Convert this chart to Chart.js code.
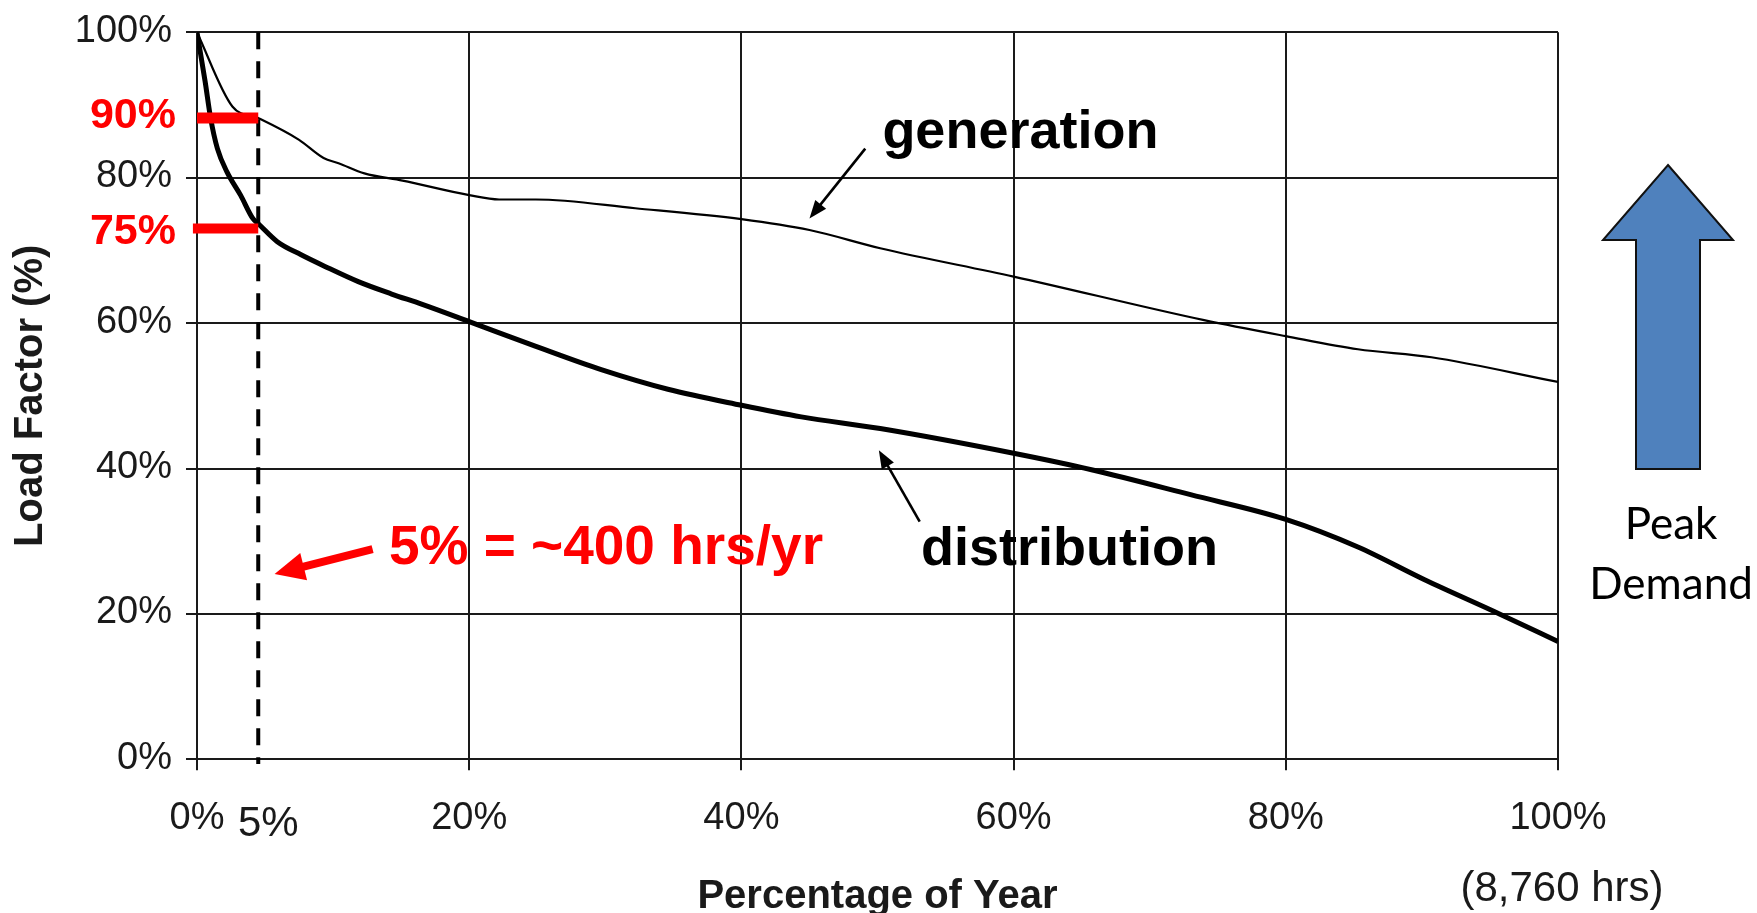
<!DOCTYPE html>
<html><head><meta charset="utf-8">
<script src="https://cdn.jsdelivr.net/npm/chart.js@4.4.1/dist/chart.umd.min.js"></script>
<style>html,body{margin:0;padding:0;background:#fff;overflow:hidden}canvas{display:block}</style>
</head><body>
<canvas id="c" width="1757" height="913"></canvas>
<script>
// ---------------- data ----------------
const xTickValues = [0, 20, 40, 60, 80, 100];
const yTickValues = [0, 20, 40, 60, 80, 100];
const generationX = [0, 2.6, 4.5, 7.5, 9.3, 10.4, 12.3, 15.1, 20, 22.2, 24.9, 32.2, 40, 45, 50.2, 60, 74, 80, 85.3, 90.7, 100];
const generationY = [100, 89.8, 88.2, 85.2, 82.7, 82.0, 80.6, 79.6, 77.6, 77.0, 77.0, 75.8, 74.3, 72.8, 70.3, 66.4, 60.4, 58.2, 56.4, 55.3, 51.9];
const distributionX = [0, 0.6, 1.0, 1.5, 2.2, 3.2, 4.1, 4.6, 5.9, 7.65, 9.4, 11.85, 14.3, 16.5, 20, 24.9, 29.7, 34.6, 40, 44.4, 50.2, 60, 65.8, 73, 80, 85.3, 90.2, 95.7, 100];
const distributionY = [100, 93.2, 88.2, 84.0, 80.8, 77.6, 74.4, 73.5, 71.2, 69.4, 67.8, 65.7, 64.0, 62.6, 60.2, 56.8, 53.6, 50.9, 48.7, 47.1, 45.5, 42.1, 39.8, 36.4, 33.0, 29.2, 24.7, 20.0, 16.2];
const markerX = 4.5;                 // "5%" of year, dashed line as drawn
const markerLevels = [88.2, 73.0];   // red bars, as drawn
const markerLabels = ['90%', '75%'];
const markerLabelLevels = [88.4, 72.5];
const seriesNames = ['generation', 'distribution'];
const hoursText = '5% = ~400 hrs/yr';
const markerTickLabel = '5%';
const yearHoursText = '(8,760 hrs)';
const peakText = ['Peak', 'Demand'];
const xTitle = 'Percentage of Year';
const yTitle = 'Load Factor (%)';

// annotation anchors in data units
const annot = {
  genLabel: [60.5, 84.1], genArrow: [[49.1, 84.0], [45.0, 74.4]],
  distLabel: [64.1, 26.7], distArrow: [[53.1, 32.7], [50.1, 42.5]],
  hoursLabel: [14.1, 28.9], hoursArrow: [[12.9, 28.9], [5.7, 25.5]]
};

// ---------------- fonts ----------------
const SANS = "'Liberation Sans', Arial, sans-serif";
const tickFont = {family:SANS, size:38};
const ink = '#1a1a1a';

function pts(xs, ys){ return xs.map((x,i)=>({x, y: ys[i]})); }

function arrow(ctx, x1,y1,x2,y2, lw, headLen, headW, color){
  const a=Math.atan2(y2-y1,x2-x1);
  const bx=x2-headLen*Math.cos(a), by=y2-headLen*Math.sin(a);
  ctx.save();
  ctx.strokeStyle=color; ctx.lineWidth=lw; ctx.lineCap='butt';
  ctx.beginPath(); ctx.moveTo(x1,y1); ctx.lineTo(bx+Math.cos(a)*2,by+Math.sin(a)*2); ctx.stroke();
  ctx.fillStyle=color; ctx.beginPath(); ctx.moveTo(x2,y2);
  ctx.lineTo(bx+headW/2*Math.sin(a), by-headW/2*Math.cos(a));
  ctx.lineTo(bx-headW/2*Math.sin(a), by+headW/2*Math.cos(a));
  ctx.closePath(); ctx.fill();
  ctx.restore();
}

const annotationPlugin = {
  id:'annotations',
  afterDatasetsDraw(chart){
    const {ctx, chartArea:ca, scales:{x,y}} = chart;
    const P = p => [x.getPixelForValue(p[0]), y.getPixelForValue(p[1])];
    ctx.save();
    // red level labels
    ctx.fillStyle='#ff0000'; ctx.font="bold 43px "+SANS; ctx.textAlign='right'; ctx.textBaseline='middle';
    markerLabelLevels.forEach((lv,i)=>{ ctx.fillText(markerLabels[i], ca.left-21, y.getPixelForValue(lv)); });
    // hours annotation
    ctx.font="bold 55px "+SANS; ctx.textAlign='left';
    const hl=P(annot.hoursLabel); ctx.fillText(hoursText, hl[0], hl[1]);
    const ha0=P(annot.hoursArrow[0]), ha1=P(annot.hoursArrow[1]);
    arrow(ctx, ha0[0],ha0[1],ha1[0],ha1[1], 8, 30, 28, '#ff0000');
    // series labels
    ctx.fillStyle='#000'; ctx.font="bold 54px "+SANS; ctx.textAlign='center'; ctx.textBaseline='alphabetic';
    const gl=P(annot.genLabel); ctx.fillText(seriesNames[0], gl[0], gl[1]);
    const dl=P(annot.distLabel); ctx.fillText(seriesNames[1], dl[0], dl[1]);
    const g0=P(annot.genArrow[0]), g1=P(annot.genArrow[1]);
    arrow(ctx, g0[0],g0[1],g1[0],g1[1], 2.6, 18, 14, '#000');
    const d0=P(annot.distArrow[0]), d1=P(annot.distArrow[1]);
    arrow(ctx, d0[0],d0[1],d1[0],d1[1], 2.6, 18, 14, '#000');
    // "5%" tick label under the dashed line
    ctx.fillStyle=ink; ctx.textBaseline='middle'; ctx.textAlign='center';
    ctx.font = "42px "+SANS;
    ctx.fillText(markerTickLabel, x.getPixelForValue(markerX)+10, ca.bottom+65);
    // 8,760 hrs
    ctx.font="42px "+SANS;
    ctx.fillText(yearHoursText, ca.right+4, ca.bottom+130);
    // Peak demand arrow
    const cx = ca.right+110;
    ctx.beginPath();
    ctx.moveTo(cx, 165); ctx.lineTo(cx+65, 240); ctx.lineTo(cx+32, 240); ctx.lineTo(cx+32, 469);
    ctx.lineTo(cx-32, 469); ctx.lineTo(cx-32, 240); ctx.lineTo(cx-65, 240); ctx.closePath();
    ctx.fillStyle='#4f81bd'; ctx.fill(); ctx.lineWidth=2; ctx.strokeStyle='#111'; ctx.stroke();
    ctx.fillStyle='#000'; ctx.font="44px Lato, 'Noto Sans', sans-serif"; ctx.textAlign='center'; ctx.textBaseline='middle';
    ctx.fillText(peakText[0], cx+3, 525);
    ctx.fillText(peakText[1], cx+3, 585);
    ctx.restore();
  }
};

const chart = new Chart(document.getElementById('c'), {
  type:'line',
  data:{ datasets:[
    {label:'bar90', data:[{x:0,y:markerLevels[0]},{x:markerX,y:markerLevels[0]}], borderColor:'#ff0000', borderWidth:11, borderCapStyle:'butt', pointRadius:0, clip:false, order:0},
    {label:'bar75', data:[{x:-0.3,y:markerLevels[1]},{x:markerX,y:markerLevels[1]}], borderColor:'#ff0000', borderWidth:10, borderCapStyle:'butt', pointRadius:0, clip:false, order:0},
    {label:seriesNames[0], data:pts(generationX, generationY), borderColor:'#000', borderWidth:2.2, pointRadius:0, cubicInterpolationMode:'monotone', order:1},
    {label:seriesNames[1], data:pts(distributionX, distributionY), borderColor:'#000', borderWidth:5, pointRadius:0, cubicInterpolationMode:'monotone', order:2},
    {label:'marker', data:[{x:markerX,y:100},{x:markerX,y:-0.65}], borderColor:'#000', borderWidth:4, borderDash:[17,12], borderCapStyle:'butt', pointRadius:0, clip:false, order:3}
  ]},
  options:{
    responsive:false, animation:false, devicePixelRatio:1,
    layout:{padding:{left:0, top:32.3, right:199, bottom:0}},
    plugins:{legend:{display:false}, tooltip:{enabled:false}},
    scales:{
      x:{type:'linear', min:0, max:100,
        afterBuildTicks(s){ s.ticks = xTickValues.map(v=>({value:v})); },
        afterFit(s){ s.height = 153.7; },
        ticks:{callback:v=>v+'%', color:ink, font:tickFont, padding:25, maxRotation:0, autoSkip:false},
        grid:{color:ink, lineWidth:2, tickLength:11},
        border:{color:ink, width:2},
        title:{display:true, text:xTitle, color:ink, font:{family:SANS, size:40, weight:'bold', lineHeight:0.8}, padding:{top:0,bottom:0}}
      },
      y:{type:'linear', min:0, max:100,
        afterBuildTicks(s){ s.ticks = yTickValues.map(v=>({value:v})); },
        afterFit(s){ s.width = 197; s.paddingTop = 0; s.paddingBottom = 0; },
        ticks:{callback:v=>v+'%', color:ink, font:tickFont, padding:14, labelOffset:-1},
        grid:{color:ink, lineWidth:2, tickLength:11},
        border:{color:ink, width:2},
        title:{display:true, text:yTitle, color:ink, font:{family:SANS, size:40, weight:'bold'}, padding:{top:7,bottom:0}}
      }
    }
  },
  plugins:[annotationPlugin]
});
</script>
</body></html>
